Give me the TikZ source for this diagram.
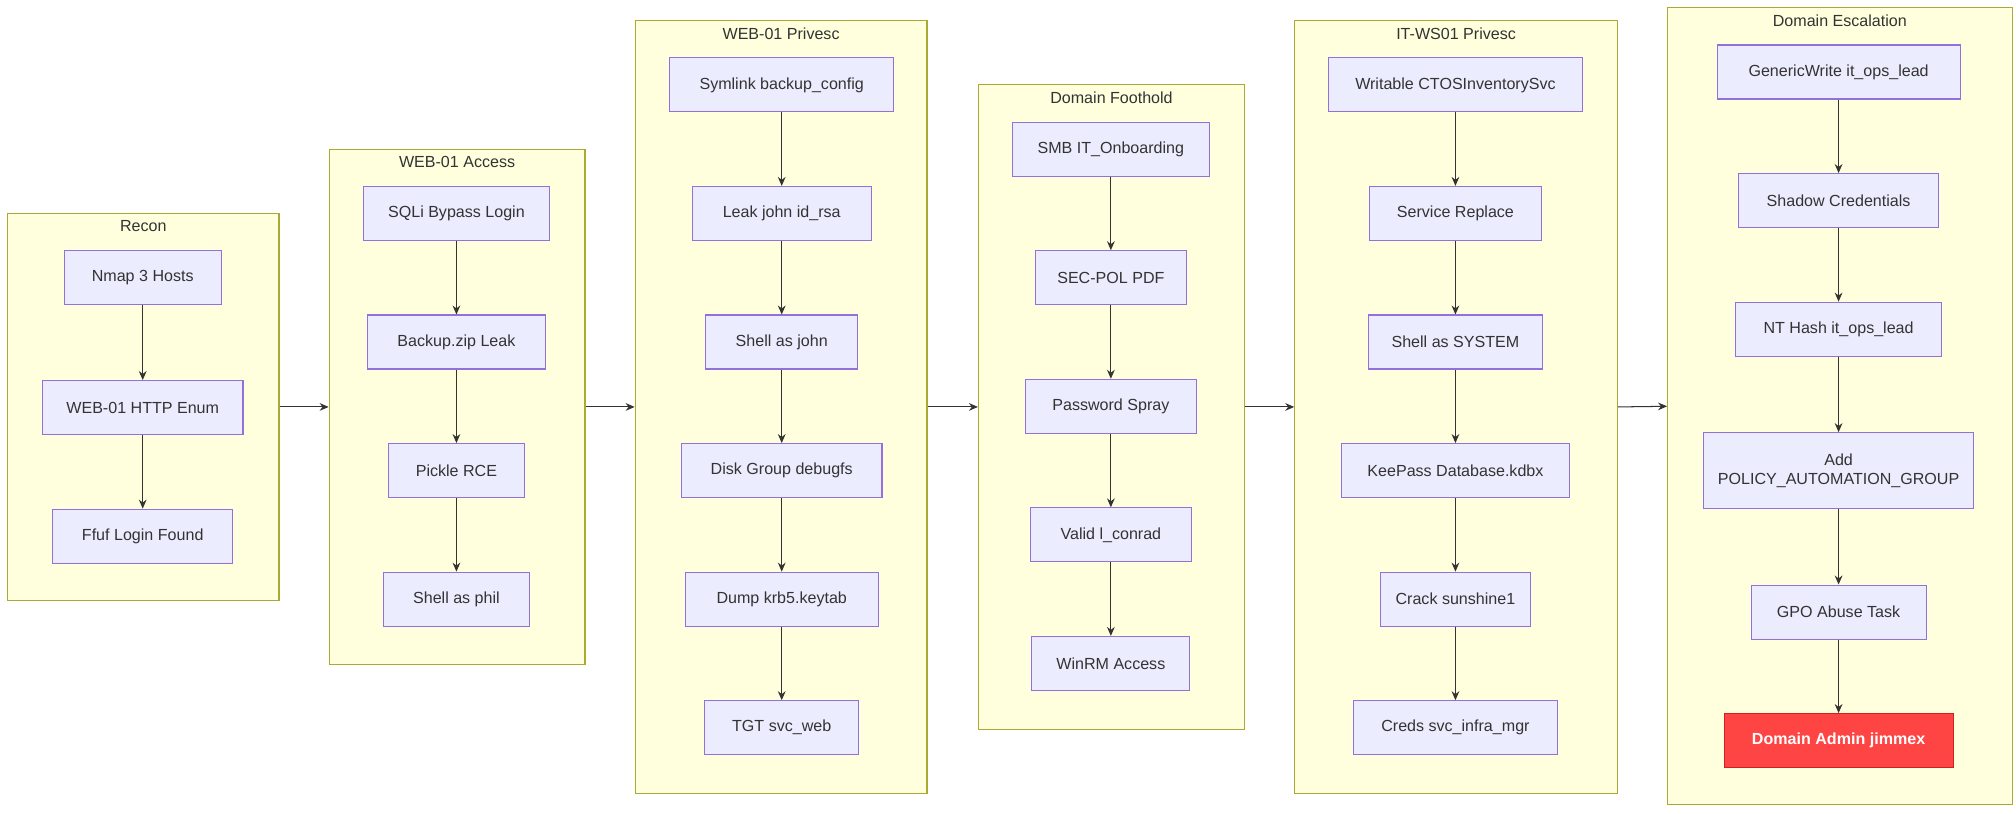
\documentclass[tikz,border=0pt]{standalone}
\usepackage{fontspec}
\setmainfont{Liberation Sans}
\usetikzlibrary{arrows.meta}
\definecolor{nodefill}{HTML}{ECECFF}
\definecolor{nodeline}{HTML}{9370DB}
\definecolor{clusterfill}{HTML}{FFFFDE}
\definecolor{clusterline}{HTML}{AAAA33}
\definecolor{edgecol}{HTML}{333333}
\definecolor{adminfill}{HTML}{FF4444}
\definecolor{adminline}{HTML}{CC2222}

\tikzset{
  stepbox/.style={draw=nodeline, fill=nodefill, line width=0.8pt, minimum height=42pt, inner sep=2pt, font=\fontsize{12.5}{15}\selectfont, text=edgecol, align=center},
  cluster/.style={draw=clusterline, fill=clusterfill, line width=0.8pt},
  title/.style={font=\fontsize{12.5}{15}\selectfont, text=edgecol, anchor=north},
  flow/.style={-{Stealth[length=7pt,width=6pt]}, draw=edgecol, line width=0.8pt}
}

\begin{document}
\begin{tikzpicture}[x=1pt, y=-1pt]
\useasboundingbox (0,0) rectangle (1568,633);

% clusters
\node[cluster, minimum width=211pt, minimum height=301pt] (recon) at (111.5,316.5) {};
\node[title] at (111.5,168) {Recon};
\node[cluster, minimum width=199pt, minimum height=401pt] (access) at (355.5,316.5) {};
\node[title] at (355.5,118) {WEB-01 Access};
\node[cluster, minimum width=227pt, minimum height=601pt] (privesc) at (607.5,316.5) {};
\node[title] at (607.5,18) {WEB-01 Privesc};
\node[cluster, minimum width=207pt, minimum height=501pt] (foothold) at (864.5,316.5) {};
\node[title] at (864.5,68) {Domain Foothold};
\node[cluster, minimum width=251pt, minimum height=601pt] (itws) at (1132.5,316.5) {};
\node[title] at (1132.5,18) {IT-WS01 Privesc};
\node[cluster, minimum width=268pt, minimum height=620pt] (escal) at (1431,316) {};
\node[title] at (1431,8) {Domain Escalation};

% Recon
\node[stepbox, minimum width=122pt] (nmap) at (111,216) {Nmap 3 Hosts};
\node[stepbox, minimum width=156pt] (http) at (111,317) {WEB-01 HTTP Enum};
\node[stepbox, minimum width=140pt] (ffuf) at (111,417) {Ffuf Login Found};

% WEB-01 Access
\node[stepbox, minimum width=145pt] (sqli) at (355,166) {SQLi Bypass Login};
\node[stepbox, minimum width=139pt] (backup) at (355,266) {Backup.zip Leak};
\node[stepbox, minimum width=106pt] (pickle) at (355,366) {Pickle RCE};
\node[stepbox, minimum width=114pt] (phil) at (355,466) {Shell as phil};

% WEB-01 Privesc
\node[stepbox, minimum width=174pt] (symlink) at (608,66) {Symlink backup\_config};
\node[stepbox, minimum width=139pt] (idrsa) at (608,166) {Leak john id\_rsa};
\node[stepbox, minimum width=118pt] (john) at (608,266) {Shell as john};
\node[stepbox, minimum width=156pt] (disk) at (608,366) {Disk Group debugfs};
\node[stepbox, minimum width=150pt] (keytab) at (608,466) {Dump krb5.keytab};
\node[stepbox, minimum width=120pt] (tgt) at (608,566) {TGT svc\_web};

% Domain Foothold
\node[stepbox, minimum width=153pt] (smb) at (864,116) {SMB IT\_Onboarding};
\node[stepbox, minimum width=118pt] (secpol) at (864,216) {SEC-POL PDF};
\node[stepbox, minimum width=133pt] (spray) at (864,316) {Password Spray};
\node[stepbox, minimum width=125pt] (conrad) at (864,416) {Valid l\_conrad};
\node[stepbox, minimum width=123pt] (winrm) at (864,516) {WinRM Access};

% IT-WS01 Privesc
\node[stepbox, minimum width=197pt] (writable) at (1132,66) {Writable CTOSInventorySvc};
\node[stepbox, minimum width=134pt] (replace) at (1132,166) {Service Replace};
\node[stepbox, minimum width=136pt] (system) at (1132,266) {Shell as SYSTEM};
\node[stepbox, minimum width=177pt] (keepass) at (1132,366) {KeePass Database.kdbx};
\node[stepbox, minimum width=116pt] (crack) at (1132,466) {Crack sunshine1};
\node[stepbox, minimum width=159pt] (creds) at (1132,566) {Creds svc\_infra\_mgr};

% Domain Escalation
\node[stepbox, minimum width=189pt] (generic) at (1430,56) {GenericWrite it\_ops\_lead};
\node[stepbox, minimum width=156pt] (shadow) at (1430,156) {Shadow Credentials};
\node[stepbox, minimum width=160pt] (nthash) at (1430,256) {NT Hash it\_ops\_lead};
\node[stepbox, minimum width=210pt, minimum height=59pt] (group) at (1430,366) {Add\\POLICY\_AUTOMATION\_GROUP};
\node[stepbox, minimum width=136pt] (gpo) at (1430,476) {GPO Abuse Task};
\node[stepbox, minimum width=178pt, fill=adminfill, draw=adminline, text=white, font=\fontsize{12.5}{15}\selectfont\bfseries] (admin) at (1430,576) {Domain Admin jimmex};

% edges inside clusters
\draw[flow] (nmap) -- (http);
\draw[flow] (http) -- (ffuf);
\draw[flow] (sqli) -- (backup);
\draw[flow] (backup) -- (pickle);
\draw[flow] (pickle) -- (phil);
\draw[flow] (symlink) -- (idrsa);
\draw[flow] (idrsa) -- (john);
\draw[flow] (john) -- (disk);
\draw[flow] (disk) -- (keytab);
\draw[flow] (keytab) -- (tgt);
\draw[flow] (smb) -- (secpol);
\draw[flow] (secpol) -- (spray);
\draw[flow] (spray) -- (conrad);
\draw[flow] (conrad) -- (winrm);
\draw[flow] (writable) -- (replace);
\draw[flow] (replace) -- (system);
\draw[flow] (system) -- (keepass);
\draw[flow] (keepass) -- (crack);
\draw[flow] (crack) -- (creds);
\draw[flow] (generic) -- (shadow);
\draw[flow] (shadow) -- (nthash);
\draw[flow] (nthash) -- (group);
\draw[flow] (group) -- (gpo);
\draw[flow] (gpo) -- (admin);

% edges between clusters
\draw[flow] (recon.east) -- (access.west);
\draw[flow] (access.east) -- (privesc.west);
\draw[flow] (privesc.east) -- (foothold.west);
\draw[flow] (foothold.east) -- (itws.west);
\draw[flow] (itws.east) -- (escal.west);
\end{tikzpicture}
\end{document}
